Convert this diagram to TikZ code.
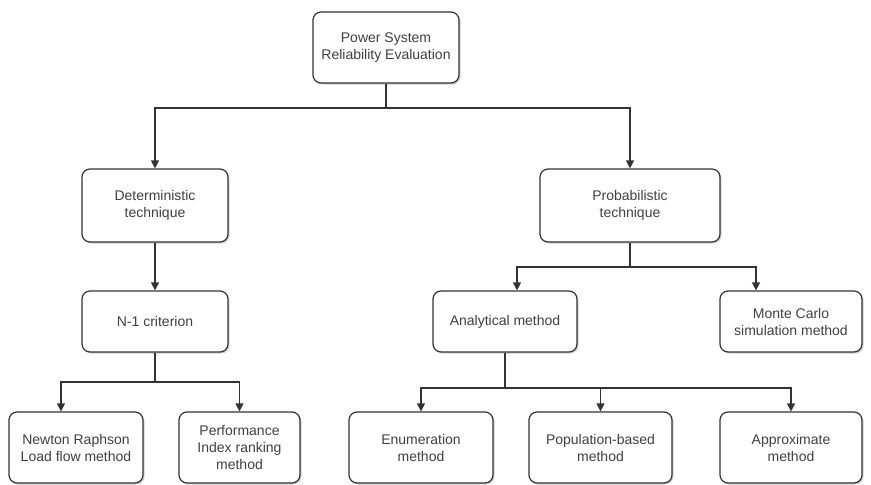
\documentclass[tikz,border=0pt]{standalone}
\usepackage{fontspec}
\setmainfont{Liberation Sans}
\usepackage{tikz}
\usetikzlibrary{arrows.meta,positioning,shadows}
\usepackage{xcolor}
\definecolor{edgegray}{HTML}{333333}
\definecolor{textgray}{HTML}{404040}

\begin{document}
\begin{tikzpicture}[x=1pt, y=-1pt,
  box/.style={draw=edgegray, line width=1.2pt, rounded corners=8pt, fill=white,
    align=center, text=textgray, font=\fontsize{14}{17}\selectfont,
    inner sep=2pt, drop shadow={shadow xshift=1.5pt, shadow yshift=-1.5pt,
      fill=black!40, opacity=0.45}},
  link/.style={draw=edgegray, line width=1.2pt},
  arr/.style={link, -{Triangle[length=8pt, width=8pt]}}]
\fill[white] (0,0) rectangle (871,485);
\useasboundingbox (0,0) rectangle (871,485);

% top level
\node[box, minimum width=146pt, minimum height=71pt]
  (root) at (386,47.5) {Power System\\Reliability Evaluation};

% techniques
\node[box, minimum width=146pt, minimum height=73pt]
  (det) at (155,205.5) {Deterministic\\technique};
\node[box, minimum width=180pt, minimum height=73pt]
  (prob) at (630,205.5) {Probabilistic\\technique};

% second level
\node[box, minimum width=146pt, minimum height=61pt]
  (nminus) at (155,321.5) {N-1 criterion};
\node[box, minimum width=144pt, minimum height=61pt]
  (ana) at (505,321.5) {Analytical method};
\node[box, minimum width=142pt, minimum height=61pt]
  (mc) at (791,321.5) {Monte Carlo\\simulation method};

% methods
\node[box, minimum width=134pt, minimum height=71pt]
  (newton) at (76,447.5) {Newton Raphson\\Load flow method};
\node[box, minimum width=121pt, minimum height=71pt]
  (perf) at (239.5,447.5) {Performance\\Index ranking\\method};
\node[box, minimum width=144pt, minimum height=71pt]
  (enum) at (421,447.5) {Enumeration\\method};
\node[box, minimum width=143pt, minimum height=71pt]
  (pop) at (600.5,447.5) {Population-based\\method};
\node[box, minimum width=142pt, minimum height=71pt]
  (approx) at (791,447.5) {Approximate\\method};

% connectors
\coordinate (rootbar) at (386,108);
\draw[link] (root.south) -- (rootbar);
\draw[arr] (rootbar) -| (det.north);
\draw[arr] (rootbar) -| (prob.north);

\draw[arr] (det.south) -- (nminus.north);

\coordinate (nbar) at (155,382);
\draw[link] (nminus.south) -- (nbar);
\draw[arr] (nbar) -| ([xshift=-15pt]newton.north);
\draw[arr] (nbar) -| (perf.north);

\coordinate (pbar) at (630,267);
\draw[link] (prob.south) -- (pbar);
\draw[arr] (pbar) -| ([xshift=12pt]ana.north);
\draw[arr] (pbar) -| ([xshift=-35pt]mc.north);

\coordinate (abar) at (505,388);
\draw[link] (ana.south) -- (abar);
\draw[arr] (abar) -| (enum.north);
\draw[arr] (abar) -| (pop.north);
\draw[arr] (abar) -| (approx.north);
\end{tikzpicture}
\end{document}
